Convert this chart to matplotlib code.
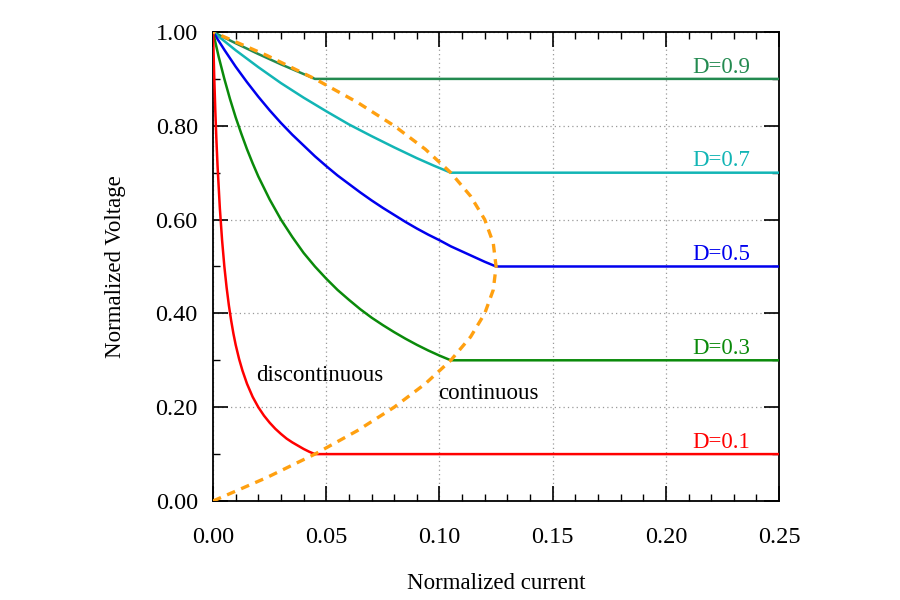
import matplotlib
matplotlib.use("Agg")
import matplotlib.pyplot as plt
from matplotlib.ticker import MultipleLocator, FormatStrFormatter

plt.rcParams['font.family'] = ['Liberation Serif', 'DejaVu Serif']

# Discontinuous-mode curves (normalized current, normalized voltage), then flat continuous part
d01_x = [0.0, 0.0005, 0.001, 0.0015, 0.002, 0.003, 0.004, 0.005, 0.006, 0.007, 0.008, 0.009, 0.010, 0.0115, 0.013,
         0.015, 0.0175, 0.020, 0.0225, 0.025, 0.0275, 0.030, 0.0325, 0.035, 0.0375, 0.040, 0.0425, 0.045, 0.25]
d01_y = [1.0, 0.909, 0.833, 0.769, 0.714, 0.625, 0.556, 0.500, 0.455, 0.417, 0.385, 0.357, 0.333, 0.303, 0.278,
         0.250, 0.222, 0.200, 0.182, 0.167, 0.154, 0.143, 0.133, 0.125, 0.118, 0.111, 0.105, 0.100, 0.100]

d03_x = [0.0, 0.0025, 0.005, 0.0075, 0.010, 0.0125, 0.015, 0.0175, 0.020, 0.025, 0.030, 0.035, 0.040, 0.045,
         0.050, 0.055, 0.060, 0.065, 0.070, 0.075, 0.080, 0.085, 0.090, 0.095, 0.100, 0.105, 0.25]
d03_y = [1.0, 0.947, 0.900, 0.857, 0.818, 0.783, 0.750, 0.720, 0.692, 0.643, 0.600, 0.563, 0.529, 0.500,
         0.474, 0.450, 0.429, 0.409, 0.391, 0.375, 0.360, 0.346, 0.333, 0.321, 0.310, 0.300, 0.300]

d05_x = [0.0, 0.005, 0.010, 0.015, 0.020, 0.025, 0.030, 0.035, 0.040, 0.045, 0.050, 0.055, 0.060, 0.065, 0.070,
         0.075, 0.080, 0.085, 0.090, 0.095, 0.100, 0.105, 0.110, 0.115, 0.120, 0.125, 0.25]
d05_y = [1.0, 0.962, 0.926, 0.893, 0.862, 0.833, 0.806, 0.781, 0.758, 0.735, 0.714, 0.694, 0.676, 0.658, 0.641,
         0.625, 0.610, 0.595, 0.581, 0.568, 0.556, 0.543, 0.532, 0.521, 0.510, 0.500, 0.500]

d07_x = [0.0, 0.010, 0.020, 0.030, 0.040, 0.050, 0.060, 0.070, 0.080, 0.090, 0.0975, 0.105, 0.25]
d07_y = [1.0, 0.961, 0.925, 0.891, 0.860, 0.831, 0.803, 0.778, 0.754, 0.731, 0.715, 0.700, 0.700]

d09_x = [0.0, 0.010, 0.020, 0.030, 0.045, 0.25]
d09_y = [1.0, 0.976, 0.953, 0.931, 0.900, 0.900]

# Boundary between discontinuous and continuous modes
bnd_y = [0.0, 0.05, 0.10, 0.15, 0.20, 0.25, 0.30, 0.35, 0.40, 0.45, 0.50,
         0.55, 0.60, 0.65, 0.70, 0.75, 0.80, 0.85, 0.90, 0.95, 1.0]
bnd_x = [0.0, 0.02375, 0.045, 0.06375, 0.080, 0.09375, 0.105, 0.11375, 0.120, 0.12375, 0.125,
         0.12375, 0.120, 0.11375, 0.105, 0.09375, 0.080, 0.06375, 0.045, 0.02375, 0.0]

labels = ['D=0.9', 'D=0.7', 'D=0.5', 'D=0.3', 'D=0.1']
label_y = [0.925, 0.725, 0.525, 0.325, 0.125]
colors = ['#238a50', '#12b5b5', '#0000ee', '#0a8a0a', '#ff0000']

fig = plt.figure(figsize=(9, 6), dpi=100)
ax = fig.add_axes([0.2367, 0.165, 0.629, 0.7817])

series = [(d09_x, d09_y), (d07_x, d07_y), (d05_x, d05_y), (d03_x, d03_y), (d01_x, d01_y)]
for (xs, ys), c in zip(series, colors):
    ax.plot(xs, ys, color=c, lw=1.8, zorder=3, solid_joinstyle='round')

ax.plot(bnd_x, bnd_y, color='#ffa010', lw=2.4, dashes=(2.6, 2.0), zorder=4)

for lab, ly, c in zip(labels, label_y, colors):
    ax.text(0.2245, ly, lab, color=c, fontsize=16.5, ha='center', va='center')

ax.text(0.047, 0.267, 'discontinuous', fontsize=16.5, ha='center', va='center')
ax.text(0.1215, 0.23, 'continuous', fontsize=16.5, ha='center', va='center')

ax.set_xlim(0, 0.25)
ax.set_ylim(0, 1.0)
ax.xaxis.set_major_locator(MultipleLocator(0.05))
ax.xaxis.set_minor_locator(MultipleLocator(0.01))
ax.yaxis.set_major_locator(MultipleLocator(0.2))
ax.yaxis.set_minor_locator(MultipleLocator(0.1))
ax.xaxis.set_major_formatter(FormatStrFormatter('%.2f'))
ax.yaxis.set_major_formatter(FormatStrFormatter('%.2f'))
ax.tick_params(which='both', direction='in', top=True, right=True, labelsize=17.5)
ax.tick_params(which='major', length=11, width=1.2)
ax.tick_params(which='minor', length=5, width=1.0)
ax.tick_params(axis='x', which='major', pad=19)
ax.tick_params(axis='y', which='major', pad=11)
ax.grid(which='major', color='#999999', linestyle=(0, (1, 2.5)), lw=0.9)
for s in ax.spines.values():
    s.set_linewidth(1.3)

ax.set_xlabel('Normalized current', fontsize=16.5, labelpad=18)
ax.set_ylabel('Normalized Voltage', fontsize=16.5, labelpad=21)

fig.savefig('out.png', dpi=100)
